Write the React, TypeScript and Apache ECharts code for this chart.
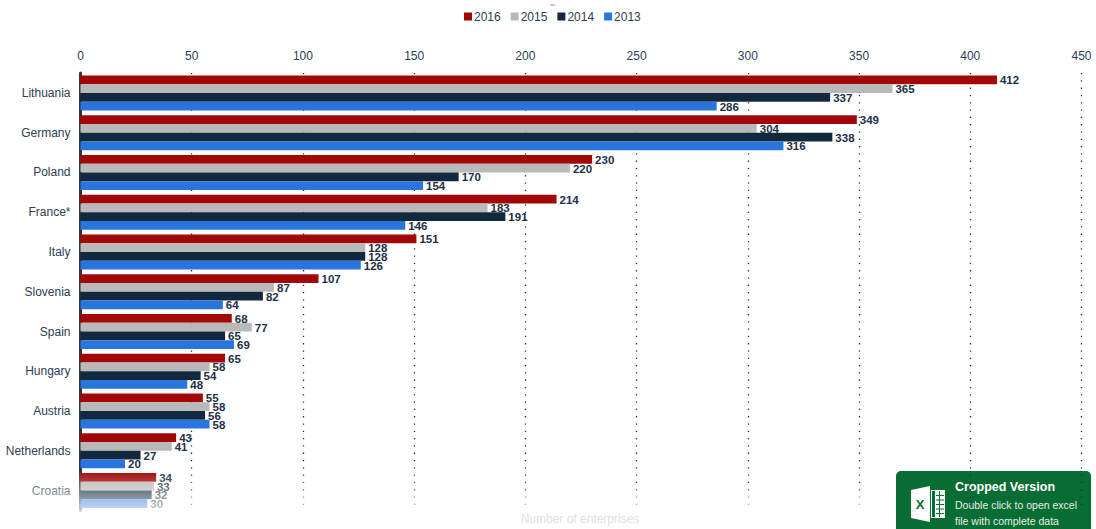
import React, { useEffect, useRef } from "react";
import * as echarts from "echarts";

const countries = ["Lithuania", "Germany", "Poland", "France*", "Italy", "Slovenia", "Spain", "Hungary", "Austria", "Netherlands", "Croatia"];
const values2016 = [412, 349, 230, 214, 151, 107, 68, 65, 55, 43, 34];
const values2015 = [365, 304, 220, 183, 128, 87, 77, 58, 58, 41, 33];
const values2014 = [337, 338, 170, 191, 128, 82, 65, 54, 56, 27, 32];
const values2013 = [286, 316, 154, 146, 126, 64, 69, 48, 58, 20, 30];
const axisTicks = { min: 0, max: 450, interval: 50 };

const FONT = '"Liberation Sans", Arial, sans-serif';
const INK = "#2c3e54";
const VALUE_INK = "#1c2f47";

const barSeries = (name: string, data: number[], color: string) => ({
  name,
  type: "bar" as const,
  data,
  barGap: "0%",
  barCategoryGap: "12%",
  itemStyle: { color },
  label: {
    show: true,
    position: "right" as const,
    distance: 3,
    offset: [0, 0.5],
    fontFamily: FONT,
    fontWeight: "bold" as const,
    fontSize: 11.5,
    color: VALUE_INK,
  },
  z: 3,
});

export default function App() {
  const ref = useRef<HTMLDivElement>(null);

  useEffect(() => {
    const chart = echarts.init(ref.current!, undefined, { renderer: "svg" });
    chart.setOption({
      animation: false,
      backgroundColor: "#ffffff",
      textStyle: { fontFamily: FONT },
      legend: {
        top: 5.5,
        left: 459,
        icon: "rect",
        itemWidth: 8,
        itemHeight: 8,
        itemGap: 10,
        textStyle: { color: INK, fontSize: 12, fontFamily: FONT, padding: [0, 0, 0, -3] },
        data: ["2016", "2015", "2014", "2013"],
      },
      grid: { left: 80.5, right: 14.5, top: 73, bottom: 18.5, outerBoundsMode: "none" },
      xAxis: {
        type: "value",
        position: "top",
        min: axisTicks.min,
        max: axisTicks.max,
        interval: axisTicks.interval,
        axisLine: { show: false },
        axisTick: { show: false },
        axisLabel: { color: INK, fontSize: 12, fontFamily: FONT, margin: 11 },
        splitLine: { show: true, lineStyle: { color: "#1c2f47", width: 1.3, type: [1.3, 6] } },
      },
      yAxis: {
        type: "category",
        inverse: true,
        data: countries,
        axisLine: { show: true, onZero: false, lineStyle: { color: "#333333", width: 3 } },
        axisTick: { show: false },
        axisLabel: { color: INK, fontSize: 12, fontFamily: FONT, margin: 10, padding: [3, 0, 0, 0] },
        splitLine: { show: false },
      },
      series: [
        barSeries("2016", values2016, "#a30808"),
        barSeries("2015", values2015, "#b9b9b9"),
        barSeries("2014", values2014, "#12283f"),
        barSeries("2013", values2013, "#2a75dd"),
      ],
      graphic: [
        // Small rule above the legend
        { type: "line", shape: { x1: 550, y1: 5, x2: 555, y2: 5 }, style: { stroke: "#8a94a0", lineWidth: 1 } },
        // Fade-out over the last row
        {
          type: "rect",
          z: 50,
          shape: { x: 0, y: 470, width: 895, height: 59 },
          style: {
            fill: {
              type: "linear",
              x: 0,
              y: 0,
              x2: 0,
              y2: 1,
              colorStops: [
                { offset: 0, color: "rgba(255,255,255,0)" },
                { offset: 0.68, color: "rgba(255,255,255,0.72)" },
                { offset: 0.75, color: "rgba(255,255,255,1)" },
                { offset: 1, color: "rgba(255,255,255,1)" },
              ],
            },
          },
        },
        {
          type: "text",
          z: 51,
          x: 580,
          y: 519,
          style: { text: "Number of enterprises", fill: "#dde1e6", font: `12px ${FONT}`, align: "center", verticalAlign: "middle" },
        },
        // Spreadsheet badge
        {
          type: "group",
          z: 60,
          children: [
            { type: "rect", shape: { x: 896, y: 471, width: 195, height: 58, r: [5, 5, 0, 0] }, style: { fill: "#076d33" } },
            { type: "polygon", shape: { points: [[911, 490], [930, 486], [930, 522], [911, 518]] }, style: { fill: "#ffffff" } },
            { type: "rect", shape: { x: 931, y: 490, width: 14, height: 28 }, style: { fill: "#ffffff" } },
            { type: "rect", shape: { x: 932, y: 491, width: 3, height: 26 }, style: { fill: "#076d33" } },
            ...[495, 499.5, 504, 508.5, 513].map((y) => ({
              type: "rect",
              shape: { x: 936, y, width: 8, height: 1 },
              style: { fill: "#076d33" },
            })),
            { type: "rect", shape: { x: 939, y: 491, width: 1, height: 26 }, style: { fill: "#076d33" } },
            { type: "text", x: 920, y: 504, style: { text: "X", fill: "#076d33", font: `bold 13px ${FONT}`, align: "center", verticalAlign: "middle" } },
            { type: "text", x: 955, y: 487, style: { text: "Cropped Version", fill: "#ffffff", font: `bold 12.5px ${FONT}`, verticalAlign: "middle" } },
            { type: "text", x: 955, y: 505, style: { text: "Double click to open excel", fill: "#e4efe8", font: `10.5px ${FONT}`, verticalAlign: "middle" } },
            { type: "text", x: 955, y: 521, style: { text: "file with complete data", fill: "#e4efe8", font: `10.5px ${FONT}`, verticalAlign: "middle" } },
          ],
        },
      ],
    });
    return () => chart.dispose();
  }, []);

  return <div ref={ref} style={{ position: "fixed", left: 0, top: 0, width: 1096, height: 529 }} />;
}
